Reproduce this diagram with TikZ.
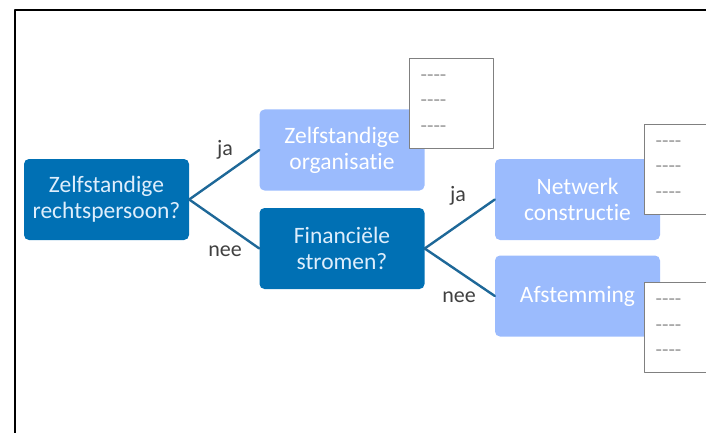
\documentclass[tikz,border=0pt]{standalone}
\usepackage{fontspec}
\setmainfont{Carlito}[Ligatures={NoCommon}]
\usetikzlibrary{positioning}

\definecolor{donker}{RGB}{0,112,180}
\definecolor{licht}{RGB}{155,187,253}
\definecolor{lijn}{RGB}{30,104,152}
\definecolor{tekstlicht}{RGB}{222,238,252}
\newcommand{\streep}{\mbox{-}\mbox{-}\mbox{-}\mbox{-}}

\begin{document}
\begin{tikzpicture}[x=1pt, y=-1pt, line cap=round, line join=round,
	vraag/.style={rectangle, rounded corners=5pt, fill=donker, text=tekstlicht,
		minimum width=165pt, minimum height=81pt, align=center,
		font=\fontsize{23.5}{26}\selectfont},
	uitkomst/.style={vraag, fill=licht, text=white},
	tak/.style={draw=lijn, line width=2.4pt},
	antwoord/.style={text=black!75, font=\fontsize{22}{24}\selectfont, inner sep=0pt},
	blad/.style={rectangle, draw=black!50, line width=1.3pt, fill=white,
		minimum width=84pt, minimum height=90pt, inner xsep=11pt, inner ysep=0pt,
		text width=62pt, align=left, text=black!40,
		font=\fontsize{21}{25.5}\selectfont}]
	% Kader
	\useasboundingbox (0,0) rectangle (706,433);
	\draw[line width=2pt] (15,433) -- (15,10) -- (706,10);

	% Vragen en uitkomsten
	\node[vraag] (zelf) at (106.5,199.5) {Zelfstandige\\rechtspersoon?};
	\node[uitkomst] (org) at (342,150) {Zelfstandige\\organisatie};
	\node[vraag] (fin) at (342,248.5) {Financiële\\stromen?};
	\node[uitkomst] (net) at (577.5,199.5) {Netwerk\\constructie};
	\node[uitkomst] (afst) at (577.5,296) {Afstemming};

	% Takken
	\draw[tak] (zelf.east) -- (org.west);
	\draw[tak] (zelf.east) -- (fin.west);
	\draw[tak] (fin.east) -- (net.west);
	\draw[tak] (fin.east) -- (afst.west);

	% Ja / nee
	\node[antwoord] (ja1) at (225,150) {ja};
	\node[antwoord] (nee1) at (225,251) {nee};
	\node[antwoord] (ja2) at (458,196) {ja};
	\node[antwoord] (nee2) at (459,297) {nee};

	% Bladen
	\node[blad, anchor=north west] (blad1) at (409,58) {\streep\\\streep\\\streep};
	\node[blad, anchor=north west] (blad2) at (644,124) {\streep\\\streep\\\streep};
	\node[blad, anchor=north west] (blad3) at (644,282) {\streep\\\streep\\\streep};
\end{tikzpicture}
\end{document}
